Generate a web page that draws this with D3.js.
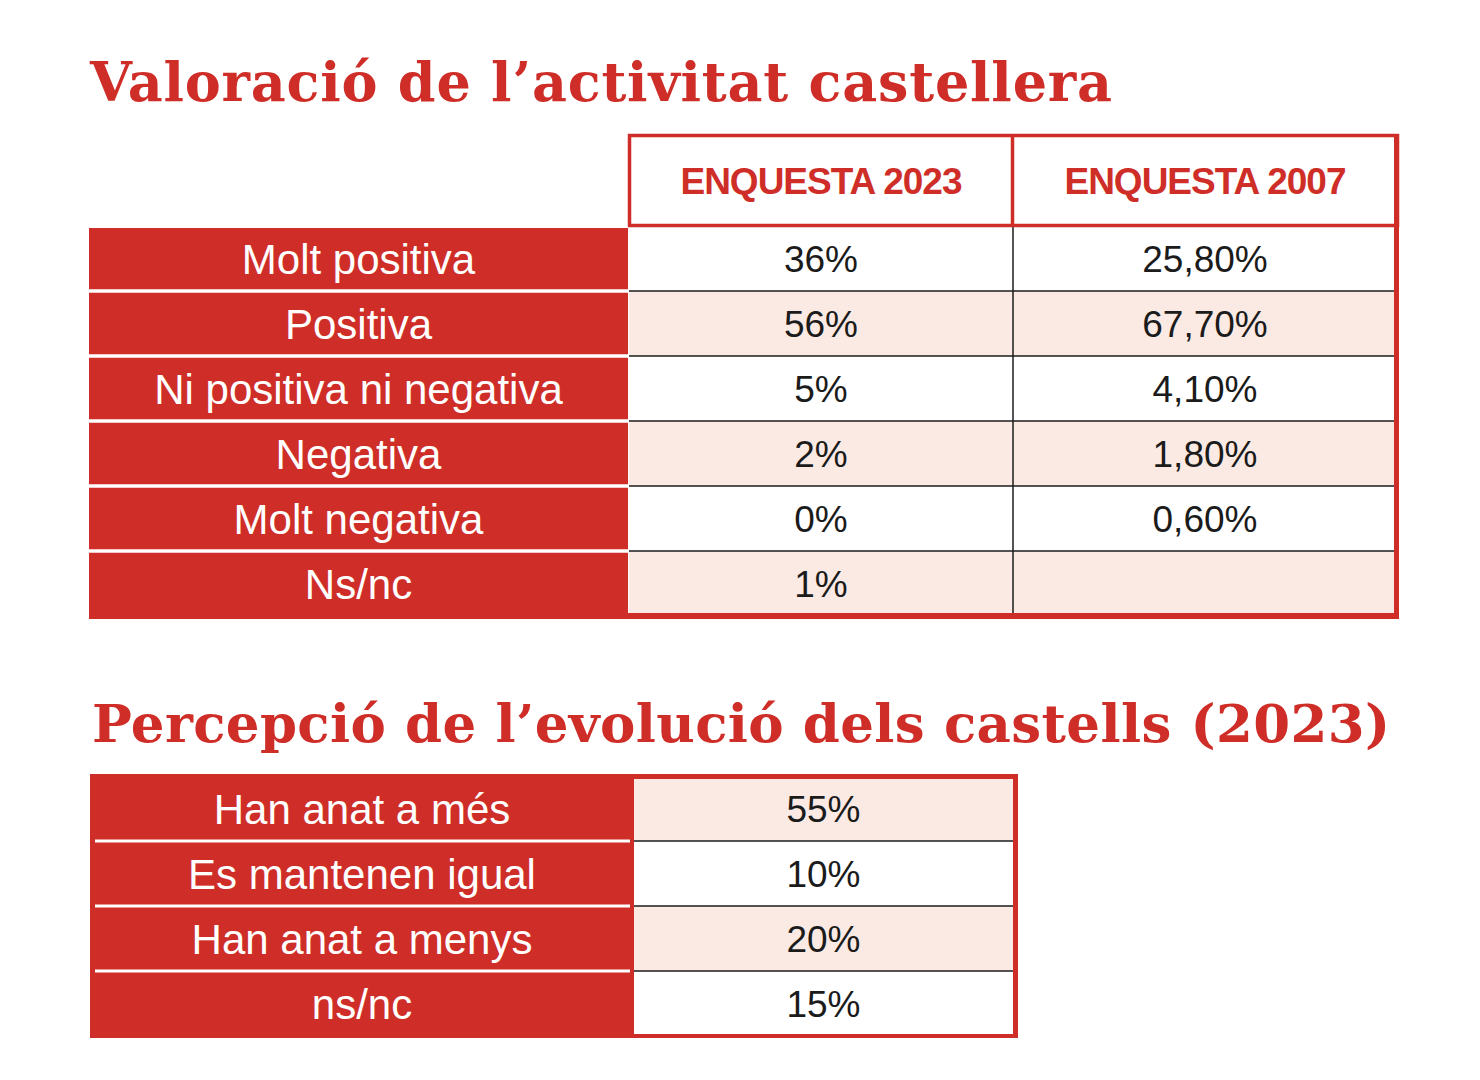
<!DOCTYPE html>
<html>
<head>
<meta charset="utf-8">
<script src="https://cdn.jsdelivr.net/npm/d3@7"></script>
<style>
  body { margin: 0; background: #fff; }
  text { font-family: "Liberation Sans", Arial, sans-serif; }
  .title { font-family: "DejaVu Serif", serif; font-weight: bold; }
</style>
</head>
<body>
<svg width="1480" height="1080"></svg>
<script>
// data
const title1 = 'Valoració de l’activitat castellera';
const title2 = 'Percepció de l’evolució dels castells (2023)';
const surveys = ['ENQUESTA 2023', 'ENQUESTA 2007'];
const ratings = ['Molt positiva', 'Positiva', 'Ni positiva ni negativa', 'Negativa', 'Molt negativa', 'Ns/nc'];
const values2023 = [36, 56, 5, 2, 0, 1];
const values2007 = [25.8, 67.7, 4.1, 1.8, 0.6, null];
const evolution = ['Han anat a més', 'Es mantenen igual', 'Han anat a menys', 'ns/nc'];
const evolutionValues = [55, 10, 20, 15];

const red = '#cf2e28';
const pink = '#fbeae4';
const ink = '#1b1b1b';

const svg = d3.select('svg');

const fmtInt = d => d3.format('d')(d) + '%';
const fmtDec = d => d == null ? '' : d3.format('.2f')(d).replace('.', ',') + '%';

// serif titles: shrink until they fit, then spread letters to the wanted width
const addTitle = (txt, x, y, w) => {
    let size = 58;
    const t = svg.append('text')
        .attr('class', 'title')
        .attr('x', x)
        .attr('y', y)
        .attr('font-size', size)
        .attr('fill', red)
        .text(txt);
    let natural = t.node().getComputedTextLength();
    while (natural > w - 10 && size > 30) {
        size -= 1;
        t.attr('font-size', size);
        natural = t.node().getComputedTextLength();
    }
    t.attr('letter-spacing', (w - natural) / (txt.length - 1));
};

addTitle(title1, 90, 101, 1022);
addTitle(title2, 92, 742, 1298);

// ---- table 1 ----
const y1 = d3.scaleBand().domain(ratings).range([226, 616]);
const x1 = d3.scaleBand().domain(surveys).range([629, 1397]);

const t1 = svg.append('g');

// label column
t1.append('rect')
    .attr('x', 89).attr('y', 228)
    .attr('width', 628 - 89).attr('height', 619 - 228)
    .attr('fill', red);

t1.selectAll('.sep').data(ratings.slice(1))
    .enter().append('line')
        .attr('x1', 89).attr('x2', 628)
        .attr('y1', d => y1(d)).attr('y2', d => y1(d))
        .attr('stroke', '#fff').attr('stroke-width', 3.5);

t1.selectAll('.lab').data(ratings)
    .enter().append('text')
        .attr('x', (89 + 628) / 2)
        .attr('y', d => y1(d) + y1.bandwidth() / 2)
        .attr('dy', '0.36em')
        .attr('text-anchor', 'middle')
        .attr('font-size', 42)
        .attr('fill', '#fff')
        .text(d => d);

// data cells
const cells1 = [];
ratings.forEach((r, i) => {
    cells1.push({ row: r, i, col: surveys[0], label: fmtInt(values2023[i]) });
    cells1.push({ row: r, i, col: surveys[1], label: fmtDec(values2007[i]) });
});

t1.selectAll('.cell').data(cells1)
    .enter().append('rect')
        .attr('x', d => x1(d.col))
        .attr('y', d => y1(d.row))
        .attr('width', x1.bandwidth())
        .attr('height', y1.bandwidth())
        .attr('fill', d => d.i % 2 ? pink : '#fff');

t1.selectAll('.hline').data(ratings.slice(1))
    .enter().append('line')
        .attr('x1', 629).attr('x2', 1395)
        .attr('y1', d => y1(d)).attr('y2', d => y1(d))
        .attr('stroke', ink).attr('stroke-width', 1.5);

t1.append('line')
    .attr('x1', x1(surveys[1])).attr('x2', x1(surveys[1]))
    .attr('y1', 226).attr('y2', 614)
    .attr('stroke', ink).attr('stroke-width', 1.5);

t1.selectAll('.val').data(cells1)
    .enter().append('text')
        .attr('x', d => x1(d.col) + x1.bandwidth() / 2)
        .attr('y', d => y1(d.row) + y1.bandwidth() / 2)
        .attr('dy', '0.36em')
        .attr('text-anchor', 'middle')
        .attr('font-size', 37)
        .attr('fill', ink)
        .text(d => d.label);

// header
t1.append('rect')
    .attr('x', 629.5).attr('y', 135.5)
    .attr('width', 1397.5 - 629.5).attr('height', 225.5 - 135.5)
    .attr('fill', '#fff')
    .attr('stroke', red).attr('stroke-width', 3.5);

t1.append('line')
    .attr('x1', x1(surveys[1]) - 0.5).attr('x2', x1(surveys[1]) - 0.5)
    .attr('y1', 135).attr('y2', 226)
    .attr('stroke', red).attr('stroke-width', 3.5);

t1.selectAll('.head').data(surveys)
    .enter().append('text')
        .attr('x', d => x1(d) + x1.bandwidth() / 2)
        .attr('y', 181)
        .attr('dy', '0.36em')
        .attr('text-anchor', 'middle')
        .attr('font-size', 37)
        .attr('font-weight', 'bold')
        .attr('letter-spacing', -1)
        .attr('fill', red)
        .text(d => d);

// outer red border (right + bottom)
t1.append('rect')
    .attr('x', 1394).attr('y', 134)
    .attr('width', 5).attr('height', 619 - 134)
    .attr('fill', red);
t1.append('rect')
    .attr('x', 89).attr('y', 613)
    .attr('width', 1399 - 89).attr('height', 6)
    .attr('fill', red);

// ---- table 2 ----
const y2 = d3.scaleBand().domain(evolution).range([776, 1036]);
const t2 = svg.append('g');

t2.append('rect')
    .attr('x', 90).attr('y', 774)
    .attr('width', 1018 - 90).attr('height', 1038 - 774)
    .attr('fill', red);

t2.selectAll('.cell').data(evolution)
    .enter().append('rect')
        .attr('x', 634)
        .attr('y', d => Math.max(y2(d), 779))
        .attr('width', 1013 - 634)
        .attr('height', d => Math.min(y2(d) + y2.bandwidth(), 1034) - Math.max(y2(d), 779))
        .attr('fill', (d, i) => i % 2 ? '#fff' : pink);

t2.selectAll('.hline').data(evolution.slice(1))
    .enter().append('line')
        .attr('x1', 634).attr('x2', 1013)
        .attr('y1', d => y2(d)).attr('y2', d => y2(d))
        .attr('stroke', ink).attr('stroke-width', 1.5);

t2.selectAll('.sep').data(evolution.slice(1))
    .enter().append('line')
        .attr('x1', 95).attr('x2', 630)
        .attr('y1', d => y2(d)).attr('y2', d => y2(d))
        .attr('stroke', '#fff').attr('stroke-width', 3);

t2.selectAll('.lab').data(evolution)
    .enter().append('text')
        .attr('x', 362)
        .attr('y', d => y2(d) + y2.bandwidth() / 2)
        .attr('dy', '0.36em')
        .attr('text-anchor', 'middle')
        .attr('font-size', 42)
        .attr('fill', '#fff')
        .text(d => d);

t2.selectAll('.val').data(evolution)
    .enter().append('text')
        .attr('x', (634 + 1013) / 2)
        .attr('y', d => y2(d) + y2.bandwidth() / 2)
        .attr('dy', '0.36em')
        .attr('text-anchor', 'middle')
        .attr('font-size', 37)
        .attr('fill', ink)
        .text((d, i) => fmtInt(evolutionValues[i]));
</script>
</body>
</html>
